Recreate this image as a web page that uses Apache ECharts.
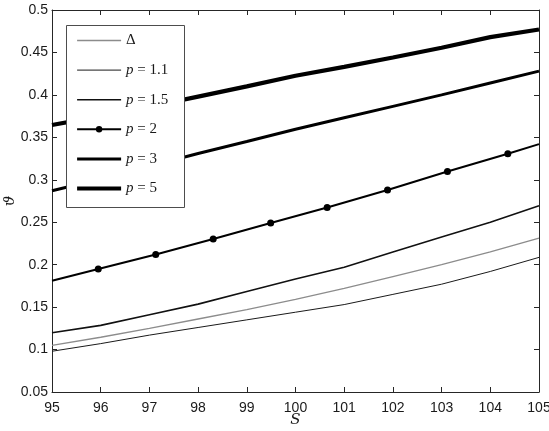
<!DOCTYPE html>
<html>
<head>
<meta charset="utf-8">
<script src="https://cdn.jsdelivr.net/npm/echarts@6/dist/echarts.min.js"></script>
<style>
  html, body { margin: 0; padding: 0; background: #fff; }
  #chart { width: 549px; height: 431px; }
</style>
</head>
<body>
<div id="chart"></div>
<script>
// S values shared by the smooth curves
var S = [95, 96, 97, 98, 99, 100, 101, 102, 103, 104, 105];
var delta = [0.105, 0.1145, 0.125, 0.136, 0.147, 0.159, 0.172, 0.186, 0.200, 0.215, 0.2314];
var p11 = [0.098, 0.107, 0.117, 0.126, 0.135, 0.144, 0.153, 0.165, 0.177, 0.192, 0.2086];
var p15 = [0.1197, 0.1285, 0.141, 0.1535, 0.1685, 0.183, 0.197, 0.215, 0.2325, 0.250, 0.2694];
var p3 = [0.287, 0.301, 0.316, 0.331, 0.345, 0.3595, 0.373, 0.3865, 0.400, 0.414, 0.428];
var p5 = [0.3645, 0.375, 0.386, 0.398, 0.410, 0.4225, 0.433, 0.444, 0.4555, 0.468, 0.477];
// p = 2 is drawn through its marker points (end points have no marker)
var p2S = [95, 95.95, 97.13, 98.31, 99.49, 100.65, 101.89, 103.12, 104.36, 105];
var p2 = [0.181, 0.195, 0.212, 0.2302, 0.249, 0.2674, 0.288, 0.3098, 0.3306, 0.342];

var xTicks = { min: 95, max: 105, interval: 1 };
var yTicks = { min: 0.05, max: 0.5, interval: 0.05 };

// line look per curve
var styles = {
  'Δ':       { color: '#8c8c8c', width: 1.3, marker: false },
  'p = 1.1': { color: '#1a1a1a', width: 1,   marker: false },
  'p = 1.5': { color: '#111111', width: 1.6, marker: false },
  'p = 2':   { color: '#000000', width: 2,   marker: true },
  'p = 3':   { color: '#000000', width: 3,   marker: false },
  'p = 5':   { color: '#000000', width: 4.2, marker: false }
};
var names = ['Δ', 'p = 1.1', 'p = 1.5', 'p = 2', 'p = 3', 'p = 5'];

function pairs(xs, ys) {
  return xs.map(function (x, i) { return [x, ys[i]]; });
}

var p2Data = p2S.map(function (x, i) {
  var item = { value: [x, p2[i]] };
  if (i === 0 || i === p2S.length - 1) item.symbol = 'none';
  return item;
});

var tickFont = { fontFamily: 'Liberation Sans', fontSize: 14, color: '#1a1a1a' };
var axisLine = { show: true, lineStyle: { color: '#262626', width: 1 } };
var axisTick = { show: true, inside: true, length: 5, lineStyle: { color: '#262626' } };

function lineSeries(name, data) {
  var st = styles[name];
  return {
    name: name,
    type: 'line',
    data: data,
    symbol: st.marker ? 'circle' : 'none',
    symbolSize: 7,
    showSymbol: st.marker,
    lineStyle: { color: st.color, width: st.width },
    itemStyle: { color: st.color },
    z: 2
  };
}

var chart = echarts.init(document.getElementById('chart'), null, { renderer: 'canvas' });
chart.setOption({
  animation: false,
  backgroundColor: '#fff',
  grid: { left: 52, right: 10, top: 10, bottom: 39, containLabel: false, outerBoundsMode: 'none' },
  xAxis: [
    {
      type: 'value', min: xTicks.min, max: xTicks.max, interval: xTicks.interval,
      position: 'bottom',
      name: 'S', nameLocation: 'middle', nameGap: 21, nameMoveOverlap: false,
      nameTextStyle: { fontFamily: 'DejaVu Serif', fontStyle: 'italic', fontSize: 15, color: '#1a1a1a' },
      axisLine: axisLine,
      axisTick: axisTick,
      axisLabel: Object.assign({ margin: 9 }, tickFont),
      splitLine: { show: false }
    },
    {
      type: 'value', min: xTicks.min, max: xTicks.max, interval: xTicks.interval,
      position: 'top',
      axisLine: axisLine,
      axisTick: axisTick,
      axisLabel: { show: false },
      splitLine: { show: false }
    }
  ],
  yAxis: [
    {
      type: 'value', min: yTicks.min, max: yTicks.max, interval: yTicks.interval,
      position: 'left',
      name: 'ϑ', nameLocation: 'middle', nameGap: 34, nameRotate: 90, nameMoveOverlap: false,
      nameTextStyle: { fontFamily: 'DejaVu Serif', fontStyle: 'italic', fontSize: 15, color: '#1a1a1a' },
      axisLine: axisLine,
      axisTick: axisTick,
      axisLabel: Object.assign({
        margin: 4,
        formatter: function (v) { return String(parseFloat(v.toFixed(2))); }
      }, tickFont),
      splitLine: { show: false }
    },
    {
      type: 'value', min: yTicks.min, max: yTicks.max, interval: yTicks.interval,
      position: 'right',
      axisLine: axisLine,
      axisTick: axisTick,
      axisLabel: { show: false },
      splitLine: { show: false }
    }
  ],
  graphic: [
    {
      type: 'rect',
      shape: { x: 66.5, y: 25.5, width: 118, height: 182 },
      style: { fill: '#fff', stroke: '#4d4d4d', lineWidth: 1 },
      z: 50
    }
  ],
  legend: {
    orient: 'vertical',
    left: 75,
    top: 33,
    padding: 0,
    itemWidth: 44,
    itemHeight: 8,
    itemGap: 14.6,
    z: 60,
    data: names.map(function (n) {
      var st = styles[n];
      return {
        name: n,
        lineStyle: { color: st.color, width: st.width },
        itemStyle: st.marker ? { color: st.color } : { opacity: 0 }
      };
    }),
    formatter: function (name) {
      return name.charAt(0) === 'p' ? '{i|p}' + name.slice(1) : name;
    },
    textStyle: {
      fontFamily: 'Liberation Serif',
      fontSize: 15,
      color: '#1a1a1a',
      rich: {
        i: { fontFamily: 'Liberation Serif', fontStyle: 'italic', fontSize: 15, color: '#1a1a1a' }
      }
    }
  },
  series: [
    lineSeries('Δ', pairs(S, delta)),
    lineSeries('p = 1.1', pairs(S, p11)),
    lineSeries('p = 1.5', pairs(S, p15)),
    lineSeries('p = 2', p2Data),
    lineSeries('p = 3', pairs(S, p3)),
    lineSeries('p = 5', pairs(S, p5))
  ]
});
</script>
</body>
</html>
